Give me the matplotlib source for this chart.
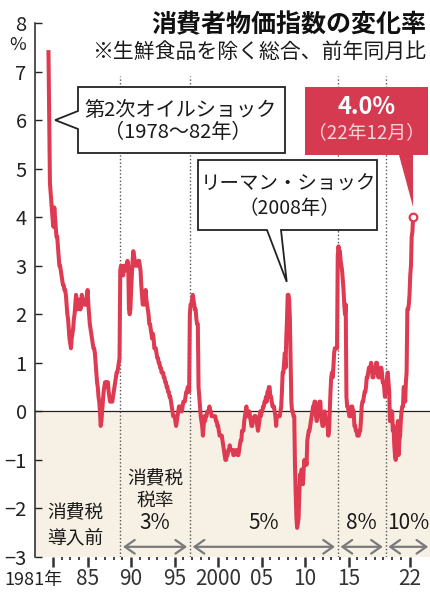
import matplotlib
matplotlib.use("Agg")
import matplotlib.pyplot as plt
from matplotlib.patches import Polygon
import numpy as np

plt.rcParams['font.family'] = ['Noto Sans CJK JP', 'DejaVu Sans']

# 消費者物価指数（生鮮食品を除く総合）前年同月比 %, 1月〜12月
cpi_1980s = [
    7.4, 6.0, 4.7, 4.5, 4.3, 4.1, 3.9, 3.8, 4.2, 4.0, 3.8, 3.6,        # 1981
    3.6, 3.4, 3.2, 3.0, 3.0, 2.9, 2.8, 2.7, 2.6, 2.6, 2.5, 2.5,        # 1982
    2.4, 2.2, 2.0, 1.9, 1.7, 1.5, 1.4, 1.3, 1.5, 1.6, 1.7, 1.9,        # 1983
    2.0, 2.2, 2.4, 2.3, 2.1, 2.2, 2.3, 2.3, 2.1, 2.2, 2.4, 2.3,        # 1984
    2.3, 2.2, 2.2, 2.3, 2.2, 2.4, 2.5, 2.2, 2.0, 1.8, 1.7, 1.6,        # 1985
    1.5, 1.4, 1.3, 1.3, 1.2, 1.0, 0.8, 0.6, 0.5, 0.3, 0.2, 0.0,        # 1986
    -0.3, -0.2, 0.0, 0.2, 0.4, 0.5, 0.6, 0.6, 0.5, 0.6, 0.6, 0.4,      # 1987
    0.3, 0.2, 0.2, 0.2, 0.2, 0.3, 0.4, 0.5, 0.6, 0.7, 0.8, 0.8,        # 1988
    0.9, 1.0, 1.1, 2.9, 3.0, 2.9, 2.9, 2.8, 3.0, 3.0, 2.9, 3.0,        # 1989
]
cpi_1990s = [
    3.0, 3.1, 3.0, 2.1, 2.0, 2.1, 2.5, 2.8, 3.1, 3.3, 3.2, 3.1,        # 1990
    3.0, 3.0, 3.0, 3.0, 3.1, 3.1, 3.0, 2.9, 2.6, 2.4, 2.2, 2.2,        # 1991
    2.2, 2.3, 2.5, 2.3, 2.2, 2.1, 2.0, 1.8, 1.8, 1.7, 1.6, 1.5,        # 1992
    1.6, 1.5, 1.3, 1.3, 1.3, 1.2, 1.1, 1.1, 1.0, 1.0, 0.9, 0.9,        # 1993
    0.8, 0.8, 0.8, 0.7, 0.7, 0.6, 0.6, 0.5, 0.5, 0.4, 0.4, 0.3,        # 1994
    0.3, 0.2, 0.1, 0.0, -0.1, -0.1, -0.1, -0.2, -0.3, -0.2, -0.1, 0.0, # 1995
    0.1, 0.0, 0.1, 0.1, 0.0, 0.1, 0.2, 0.2, 0.2, 0.3, 0.4, 0.4,        # 1996
    0.5, 0.5, 0.4, 2.0, 2.2, 2.2, 2.3, 2.4, 2.3, 2.2, 2.1, 2.1,        # 1997
    1.9, 1.8, 1.8, 0.5, 0.3, 0.1, -0.1, -0.2, -0.3, -0.5, -0.3, -0.1,  # 1998
    -0.2, -0.1, -0.1, 0.0, 0.0, 0.0, 0.1, 0.0, 0.0, -0.1, -0.1, -0.1,  # 1999
]
cpi_2000s = [
    -0.1, -0.1, -0.1, -0.2, -0.2, -0.3, -0.3, -0.4, -0.5, -0.5, -0.5, -0.5,  # 2000
    -0.6, -0.7, -0.8, -0.9, -1.0, -1.0, -0.9, -0.9, -0.8, -0.8, -0.7, -0.8,  # 2001
    -0.8, -0.8, -0.8, -0.9, -0.9, -0.8, -0.8, -0.8, -0.8, -0.9, -0.9, -0.8,  # 2002
    -0.7, -0.6, -0.6, -0.4, -0.4, -0.4, -0.2, -0.1, 0.0, 0.1, -0.1, -0.1,    # 2003
    -0.1, 0.0, -0.1, -0.2, -0.3, -0.3, -0.2, -0.2, -0.1, -0.2, -0.1, -0.2,   # 2004
    -0.3, -0.4, -0.3, -0.2, 0.0, -0.1, 0.0, 0.0, 0.1, 0.1, 0.2, 0.2,         # 2005
    0.3, 0.2, 0.4, 0.4, 0.5, 0.5, 0.3, 0.3, 0.2, 0.1, 0.1, 0.1,              # 2006
    0.0, -0.1, -0.3, -0.1, -0.1, -0.1, -0.1, -0.1, 0.0, 0.1, 0.4, 0.8,       # 2007
    0.8, 1.0, 1.2, 0.9, 1.5, 1.9, 2.4, 2.4, 2.3, 1.9, 1.0, 0.2,              # 2008
    0.0, 0.0, -0.1, -0.1, -1.1, -1.7, -2.2, -2.4, -2.3, -2.2, -1.7, -1.3,    # 2009
]
cpi_2010s = [
    -1.3, -1.2, -1.2, -1.5, -1.2, -1.0, -1.1, -1.0, -1.1, -0.6, -0.5, -0.4,  # 2010
    -0.4, -0.3, -0.2, -0.1, 0.0, 0.1, 0.1, 0.2, 0.2, -0.1, -0.2, -0.1,       # 2011
    -0.1, 0.1, 0.2, 0.2, -0.1, -0.2, -0.3, -0.3, -0.1, 0.0, -0.1, -0.2,      # 2012
    -0.2, -0.3, -0.5, -0.4, 0.0, 0.4, 0.7, 0.8, 0.7, 0.9, 1.2, 1.3,          # 2013
    1.3, 1.3, 1.3, 3.2, 3.4, 3.3, 3.3, 3.1, 3.0, 2.9, 2.7, 2.5,              # 2014
    2.2, 2.0, 2.2, 0.3, 0.1, 0.1, 0.0, -0.1, -0.1, -0.1, 0.1, 0.1,           # 2015
    0.0, 0.0, -0.3, -0.3, -0.4, -0.4, -0.5, -0.5, -0.5, -0.4, -0.4, -0.2,    # 2016
    0.1, 0.2, 0.2, 0.3, 0.4, 0.4, 0.5, 0.7, 0.7, 0.8, 0.9, 0.9,              # 2017
    0.9, 1.0, 0.9, 0.7, 0.7, 0.8, 0.8, 0.9, 1.0, 1.0, 0.9, 0.7,              # 2018
    0.8, 0.7, 0.8, 0.9, 0.8, 0.6, 0.6, 0.5, 0.3, 0.4, 0.5, 0.7,              # 2019
]
cpi_2020s = [
    0.8, 0.6, 0.4, -0.2, -0.2, 0.0, 0.0, -0.4, -0.3, -0.7, -0.9, -1.0,       # 2020
    -0.6, -0.5, -0.2, -0.9, -0.6, -0.5, -0.2, 0.0, 0.1, 0.1, 0.5, 0.5,       # 2021
    0.2, 0.6, 0.8, 2.1, 2.1, 2.2, 2.4, 2.8, 3.0, 3.6, 3.7, 4.0,              # 2022
]

# 消費税の導入・引き上げ時期（年の小数表記）と税率
tax_dates = [1989.25, 1997.25, 2014.25, 2019.75]
tax_labels = ['5%', '8%', '10%']
year_ticks = [1981, 1985, 1990, 1995, 2000, 2005, 2010, 2015, 2022]
year_labels = ['', '85', '90', '95', '2000', '05', '10', '15', '22']
y_ticks = list(range(-3, 9))

RED = '#de3a52'
W, H = 431, 597

cpi = np.array(cpi_1980s + cpi_1990s + cpi_2000s + cpi_2010s + cpi_2020s)
months = 1981 + np.arange(len(cpi)) / 12

fig = plt.figure(figsize=(W / 100, H / 100), dpi=100)
ax = fig.add_axes([35 / W, 40 / H, 396 / W, 534 / H])
ax.set_xlim(1979.45, 2024.97)
ax.set_ylim(-3, 8)

ax.axhspan(-3, 0, color='#f7f0e4', lw=0, zorder=0)
ax.axhline(0, color='#222222', lw=0.9, zorder=1)
ax.vlines(tax_dates, -3, 6.9, colors='#555555', linestyles=(0, (1, 1.6)), lw=1.0, zorder=1)
ax.plot(months, cpi, color=RED, lw=2.9, solid_joinstyle='round', zorder=3)
ax.plot(months[-1], cpi[-1], 'o', ms=5.5, mfc='white', mec=RED, mew=1.6, zorder=5)

for s in ['top', 'right', 'bottom']:
    ax.spines[s].set_visible(False)
ax.spines['left'].set_color('#222222')
ax.spines['left'].set_linewidth(1.1)

ax.set_yticks(y_ticks)
ax.set_yticklabels([str(v).replace('-', '\u2212') for v in y_ticks], fontsize=14.5)
ax.tick_params(axis='y', direction='in', length=5, width=1.0, pad=6, colors='#222222')

ax.set_xticks(np.array(year_ticks) + 0.5)
ax.set_xticklabels(year_labels, fontsize=15)
ax.set_xticks(np.arange(1981, 2023) + 0.5, minor=True)
ax.tick_params(axis='x', which='major', direction='out', length=7, width=1.8, pad=1.0, colors='#333333')
ax.tick_params(axis='x', which='minor', direction='out', length=2.5, width=1.4, colors='#444444')


def fx(x):
    return x / W


def fy(y):
    return 1 - y / H


def to_px(x, y):
    dx, dy = ax.transData.transform((x, y))
    return dx, H - dy


def ftext(x, y, s, color='#1a1a1a', **kw):
    fig.text(fx(x), fy(y), s, ha='center', va='center', color=color, **kw)


def callout(points, **kw):
    fig.add_artist(Polygon([(fx(a), fy(b)) for a, b in points], closed=True,
                           transform=fig.transFigure, **kw))


# 1981年 label sits left of its tick
bx, _ = to_px(year_ticks[0] + 0.5, -3)
fig.text(fx(bx + 10), fy(580), '1981年', ha='right', va='center', fontsize=13, color='#222222')

# title
fig.text(fx(426), fy(25), '消費者物価指数の変化率', ha='right', va='center', fontsize=18,
         fontweight='bold', color='#111111')
fig.text(fx(426), fy(52), '※生鮮食品を除く総合、前年同月比', ha='right', va='center', fontsize=15,
         color='#1a1a1a')
fig.text(fx(18), fy(45), '%', ha='center', va='center', fontsize=13, color='#222222')

# oil shock callout
ox, oy = to_px(months[1], cpi[1])
callout([(78, 87), (285, 87), (285, 153), (78, 153), (78, 129), (ox + 6, oy), (78, 111)],
        facecolor='white', edgecolor='#222222', lw=1.3)
ftext(181, 110, '第2次オイルショック', fontsize=14.5)
ftext(178, 133, '（1978〜82年）', fontsize=14.5)

# Lehman callout
i_peak = 324 + int(np.argmax(cpi[324:336]))
lx, ly = to_px(months[i_peak], cpi[i_peak])
callout([(198, 160), (377, 160), (377, 230), (281, 230), (lx - 1, ly - 13), (267, 230), (198, 230)],
        facecolor='white', edgecolor='#222222', lw=1.3)
ftext(288, 184, 'リーマン・ショック', fontsize=14)
ftext(289, 209, '（2008年）', fontsize=14)

# latest value callout
ex, ey = to_px(months[-1], cpi[-1])
callout([(305, 87), (428, 87), (428, 155), (413, 155), (ex, ey - 10), (399, 155), (305, 155)],
        facecolor='#d63a50', edgecolor='none')
ftext(367, 107, f'{cpi[-1]:.1f}%', fontsize=17, fontweight='bold', color='white')
ftext(366, 133, '（22年12月）', fontsize=13.5, color='#f8d3d7')

# consumption tax periods
arrow_y = -2.79
edges = tax_dates + [ax.get_xlim()[1]]
for x0, x1 in zip(edges[:-1], edges[1:]):
    ax.annotate('', xy=(x1, arrow_y), xytext=(x0, arrow_y), annotation_clip=False,
                arrowprops=dict(arrowstyle='<->,head_length=0.5,head_width=0.35', color='#7a7a7a',
                                lw=1.6, shrinkA=2, shrinkB=2, mutation_scale=14))

px0, _ = to_px(1984.05, 0)
ftext(px0, 513, '消費税', fontsize=13.5)
ftext(px0, 538, '導入前', fontsize=13.5)
px1, _ = to_px((tax_dates[0] + tax_dates[1]) / 2, 0)
ftext(px1, 479, '消費税', fontsize=13.5)
ftext(px1, 500, '税率', fontsize=13.5)
ftext(px1, 523, '3%', fontsize=15)
for (x0, x1), lab in zip(zip(edges[1:-1], edges[2:]), tax_labels):
    px, _ = to_px((x0 + x1) / 2, 0)
    ftext(px, 523, lab, fontsize=15)

fig.savefig('out.png', dpi=100)
